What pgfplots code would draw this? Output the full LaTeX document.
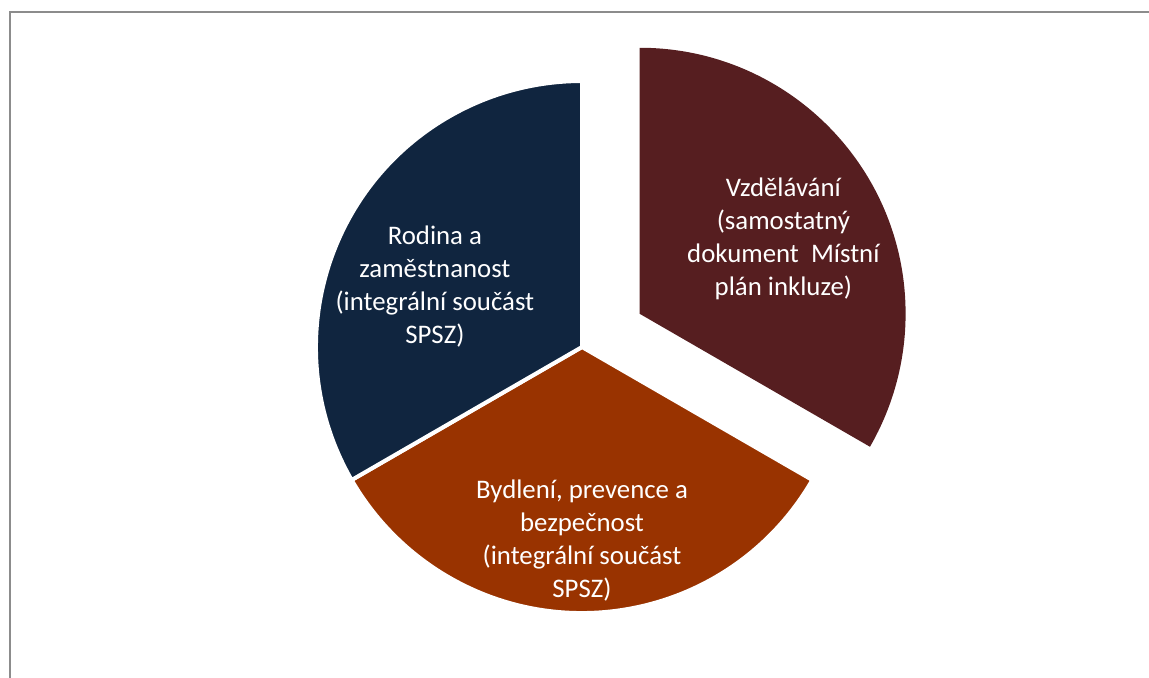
\documentclass[border=0pt]{standalone}
\usepackage{pgfplots}
\pgfplotsset{compat=1.18}
\usepackage{pgfplotstable}
\usepackage{fontspec}
\setmainfont{Carlito}

\definecolor{vzd}{HTML}{561E20}
\definecolor{byd}{HTML}{993300}
\definecolor{rod}{HTML}{10253F}
\definecolor{frame}{HTML}{8C8C8C}

\tikzset{lbl/.style={text=white, align=center, font=\fontsize{13.4}{16.5}\selectfont}}

% share of each pillar (three equal parts), explode offset in radii
\pgfplotstableread{
value explode
1 0.25
1 0
1 0
}\piedata

\pgfplotstablegetelem{0}{value}\of\piedata \let\va\pgfplotsretval
\pgfplotstablegetelem{1}{value}\of\piedata \let\vb\pgfplotsretval
\pgfplotstablegetelem{2}{value}\of\piedata \let\vc\pgfplotsretval
\pgfplotstablegetelem{0}{explode}\of\piedata \let\ea\pgfplotsretval
\pgfmathsetmacro{\total}{\va+\vb+\vc}
\pgfmathsetmacro{\aA}{90}
\pgfmathsetmacro{\aB}{\aA-360*\va/\total}
\pgfmathsetmacro{\aC}{\aB-360*\vb/\total}
\pgfmathsetmacro{\aD}{\aC-360*\vc/\total}
\pgfmathsetmacro{\ex}{\ea*cos((\aA+\aB)/2)}
\pgfmathsetmacro{\ey}{\ea*sin((\aA+\aB)/2)}

\begin{document}
\begin{tikzpicture}
\useasboundingbox (0,0) rectangle (574.5pt,338.5pt);
\clip (0,0) rectangle (574.5pt,338.5pt);
\draw[frame, line width=1pt] (5pt,-20pt) -- (5pt,332.5pt) -- (600pt,332.5pt);
\begin{axis}[
    at={(291pt,165pt)}, anchor=origin,
    x=133pt, y=133pt,
    xmin=-1.5, xmax=1.5, ymin=-1.2, ymax=1.3,
    hide axis, clip=false,
    ]
% Vzdelavani (exploded)
\fill[vzd] (axis cs:\ex,\ey) -- (axis cs:{\ex+cos(\aA)},{\ey+sin(\aA)})
    arc[start angle=\aA, end angle=\aB, radius=133pt] -- cycle;
% Bydleni
\filldraw[byd, draw=white, line width=2pt] (axis cs:0,0) -- (axis cs:{cos(\aB)},{sin(\aB)})
    arc[start angle=\aB, end angle=\aC, radius=133pt] -- cycle;
% Rodina
\filldraw[rod, draw=white, line width=2pt] (axis cs:0,0) -- (axis cs:{cos(\aC)},{sin(\aC)})
    arc[start angle=\aC, end angle=\aD, radius=133pt] -- cycle;

\node[lbl] at (axis cs:0.757,0.405) {Vzdělávání\\(samostatný\\dokument\ \ Místní\\plán inkluze)};
\node[lbl] at (axis cs:0,-0.726) {Bydlení, prevence a\\bezpečnost\\(integrální součást\\SPSZ)};
\node[lbl] at (axis cs:-0.553,0.226) {Rodina a\\zaměstnanost\\(integrální součást\\SPSZ)};
\end{axis}
\end{tikzpicture}
\end{document}
